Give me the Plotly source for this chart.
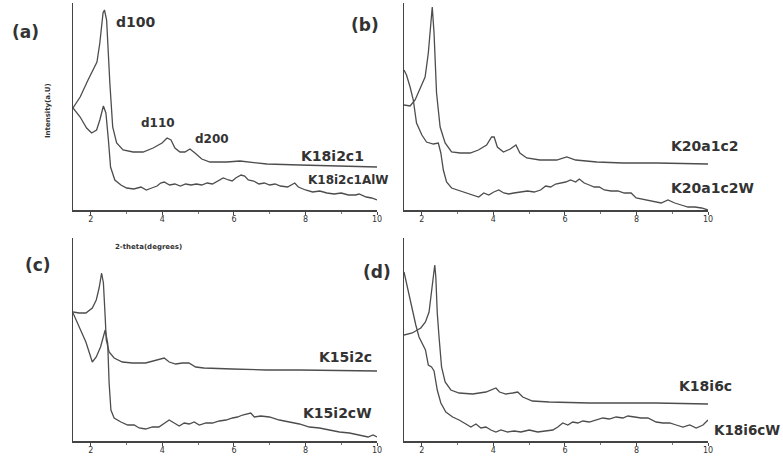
import plotly.graph_objects as go

# ---------------- data (2-theta in degrees, intensity in arbitrary units) -------------
a1_x = [1.5, 1.70, 1.92, 2.17, 2.25, 2.34, 2.38, 2.44, 2.53, 2.61, 2.72, 2.9, 3.18, 3.46, 3.74, 3.99,
        4.13, 4.24, 4.35, 4.49, 4.63, 4.77, 4.91, 5.1, 5.33, 5.8, 6.17, 6.45, 6.92, 7.85, 8.78, 10]
a1_y = [102, 113, 130, 148, 167, 197, 200, 190, 127, 83, 67, 60, 58, 58, 62, 67,
        72, 70, 62, 58, 58, 61, 57, 51, 48, 48, 49, 48, 46, 45, 44, 43]

a2_x = [1.5, 1.70, 1.88, 2.02, 2.16, 2.25, 2.35, 2.42, 2.49, 2.55, 2.67, 2.84, 3.0, 3.2, 3.4, 3.55,
        3.7, 3.85, 3.95, 4.05, 4.2, 4.35, 4.5, 4.65, 4.8, 4.95, 5.1, 5.25, 5.4, 5.55, 5.7, 5.85,
        5.95, 6.05, 6.2, 6.3, 6.4, 6.55, 6.7, 6.85, 7.0, 7.15, 7.3, 7.5, 7.7, 7.8, 8.0, 8.2,
        8.4, 8.6, 8.8, 9.0, 9.2, 9.4, 9.5, 9.7, 9.85, 10]
a2_y = [102, 93, 82, 77, 80, 90, 104, 97, 70, 43, 30, 25, 22, 21, 23, 20,
        22, 24, 27, 28, 25, 26, 24, 26, 25, 26, 25, 27, 26, 29, 32, 30,
        29, 32, 35, 34, 30, 29, 26, 27, 25, 26, 24, 23, 27, 23, 20, 18,
        19, 17, 16, 17, 15, 15, 16, 13, 12, 10]

b1_x = [1.5, 1.67, 1.81, 1.95, 2.09, 2.18, 2.25, 2.29, 2.34, 2.41, 2.51, 2.65, 2.83, 3.07, 3.35, 3.58,
        3.81, 3.95, 4.02, 4.11, 4.28, 4.47, 4.63, 4.74, 4.93, 5.3, 5.77, 6.05, 6.3, 6.89, 7.63, 8.57, 10]
b1_y = [105, 104, 110, 122, 133, 157, 190, 203, 177, 117, 83, 67, 58, 57, 57, 60,
        65, 73, 73, 63, 58, 61, 65, 57, 52, 50, 50, 53, 50, 48, 47, 47, 46]

b2_x = [1.5, 1.57, 1.67, 1.76, 1.85, 2.0, 2.13, 2.32, 2.46, 2.53, 2.6, 2.69, 2.83, 3.07, 3.26, 3.45,
        3.59, 3.73, 3.87, 4.01, 4.15, 4.29, 4.43, 4.57, 4.76, 4.95, 5.14, 5.32, 5.46, 5.6, 5.74, 5.88,
        6.02, 6.16, 6.3, 6.4, 6.54, 6.68, 6.82, 6.96, 7.1, 7.29, 7.48, 7.66, 7.85, 7.99, 8.13, 8.32,
        8.5, 8.69, 8.88, 9.07, 9.25, 9.44, 9.63, 9.82, 10]
b2_y = [140, 135, 123, 110, 87, 75, 68, 66, 67, 57, 40, 28, 22, 19, 17, 15,
        13, 17, 15, 18, 20, 17, 16, 17, 18, 19, 18, 20, 24, 23, 26, 27,
        28, 30, 28, 31, 27, 25, 23, 23, 20, 19, 19, 17, 17, 12, 11, 10,
        8, 7, 10, 7, 5, 3, 3, 2, 0]

c1_x = [1.5, 1.67, 1.86, 2.04, 2.15, 2.23, 2.3, 2.35, 2.4, 2.43, 2.51, 2.65, 2.88, 3.16, 3.53, 3.81,
        4.05, 4.19, 4.37, 4.56, 4.74, 4.93, 5.16, 5.95, 6.9, 7.83, 10]
c1_y = [129, 128, 128, 133, 141, 153, 168, 158, 124, 101, 89, 83, 79, 78, 78, 81,
        83, 79, 77, 78, 78, 74, 73, 72, 71, 71, 70]

c2_x = [1.5, 1.67, 1.86, 2.04, 2.15, 2.27, 2.4, 2.47, 2.51, 2.56, 2.65, 2.84, 3.03, 3.21, 3.35, 3.53,
        3.72, 3.9, 4.05, 4.19, 4.33, 4.47, 4.61, 4.75, 4.89, 5.03, 5.22, 5.4, 5.59, 5.78, 5.96, 6.1,
        6.24, 6.38, 6.47, 6.57, 6.75, 6.99, 7.27, 7.55, 7.83, 8.11, 8.39, 8.67, 8.95, 9.23, 9.51, 9.75,
        9.89, 10]
c2_y = [128, 114, 99, 79, 84, 94, 111, 98, 58, 31, 23, 19, 16, 16, 13, 12,
        14, 14, 18, 21, 18, 15, 18, 17, 19, 16, 18, 18, 20, 21, 23, 24,
        26, 27, 28, 24, 25, 24, 21, 19, 17, 14, 13, 11, 9, 8, 6, 4,
        6, 4]

d1_x = [1.5, 1.73, 1.97, 2.1, 2.2, 2.27, 2.33, 2.36, 2.39, 2.43, 2.48, 2.55, 2.65, 2.81, 3.04, 3.42,
        3.79, 3.98, 4.07, 4.17, 4.35, 4.54, 4.68, 4.82, 5.09, 5.56, 6.68, 7.61, 8.54, 10]
d1_y = [106, 108, 113, 119, 129, 148, 168, 176, 164, 128, 104, 74, 59, 51, 48, 47,
        49, 52, 53, 49, 47, 48, 49, 44, 40, 39, 38, 38, 38, 37]

d2_x = [1.5, 1.55, 1.62, 1.72, 1.83, 1.92, 2.01, 2.1, 2.18, 2.27, 2.34, 2.43, 2.53, 2.67, 2.86, 3.04,
        3.23, 3.37, 3.51, 3.65, 3.79, 3.93, 4.07, 4.21, 4.4, 4.58, 4.77, 5.0, 5.24, 5.47, 5.66, 5.8,
        5.94, 6.08, 6.22, 6.36, 6.5, 6.68, 6.87, 7.06, 7.24, 7.43, 7.62, 7.76, 7.95, 8.13, 8.32, 8.55,
        8.74, 8.93, 9.11, 9.3, 9.49, 9.67, 9.86, 10]
d2_y = [169, 161, 148, 133, 116, 104, 98, 91, 76, 74, 70, 51, 38, 29, 24, 21,
        17, 14, 17, 13, 14, 11, 9, 11, 9, 10, 9, 11, 9, 10, 11, 14,
        18, 16, 19, 18, 20, 19, 21, 23, 22, 24, 23, 25, 24, 23, 23, 19,
        18, 18, 16, 14, 16, 13, 16, 21]

x_tick_vals = [2, 4, 6, 8, 10]
x_tick_text = ["2", "4", "6", "8", "10"]

panel_names = ["(a)", "(b)", "(c)", "(d)"]
series_names = ["K18i2c1", "K18i2c1AlW", "K20a1c2", "K20a1c2W",
                "K15i2c", "K15i2cW", "K18i6c", "K18i6cW"]
peak_names = ["d100", "d110", "d200"]

# ---------------- figure -------------
W, H = 783, 460
def px(x):
    return x / W
def py(y):
    return 1 - y / H

LINE = "#4d4d4d"
TXT = "#333333"
FONT = "DejaVu Sans"

fig = go.Figure()
series = [(a1_x, a1_y, "x", "y"), (a2_x, a2_y, "x", "y"),
          (b1_x, b1_y, "x2", "y2"), (b2_x, b2_y, "x2", "y2"),
          (c1_x, c1_y, "x3", "y3"), (c2_x, c2_y, "x3", "y3"),
          (d1_x, d1_y, "x4", "y4"), (d2_x, d2_y, "x4", "y4")]
for (xs, ys, xa, ya), nm in zip(series, series_names):
    fig.add_trace(go.Scatter(x=xs, y=ys, xaxis=xa, yaxis=ya, mode="lines", name=nm,
                             line=dict(color=LINE, width=1.3), showlegend=False,
                             hoverinfo="skip"))

xdom_left = [px(73), px(377)]
xdom_right = [px(404), px(708)]
ydom_top = [py(210), py(3)]
ydom_bot = [py(441), py(238)]

def xax(dom, anchor):
    return dict(domain=dom, anchor=anchor, range=[1.5, 10], showgrid=False, zeroline=False,
                automargin=False,
                showline=True, linecolor="#444444", linewidth=1.5,
                ticks="outside", ticklen=3, tickwidth=1, tickcolor="#444444",
                tickvals=x_tick_vals, ticktext=x_tick_text, ticklabelstandoff=-2,
                tickfont=dict(family=FONT, size=8, color=TXT),
                minor=dict(dtick=1, tick0=0, ticks="outside", ticklen=2, tickcolor="#777777"))

def yax(dom, anchor, top):
    return dict(domain=dom, anchor=anchor, range=[0, top], showgrid=False, zeroline=False,
                automargin=False,
                showline=True, linecolor="#444444", linewidth=1.5, showticklabels=False, ticks="")

fig.update_layout(
    width=W, height=H, margin=dict(l=0, r=0, t=0, b=0, autoexpand=False),
    paper_bgcolor="white", plot_bgcolor="white",
    xaxis=xax(xdom_left, "y"), yaxis=yax(ydom_top, "x", 207),
    xaxis2=xax(xdom_right, "y2"), yaxis2=yax(ydom_top, "x2", 207),
    xaxis3=xax(xdom_left, "y3"), yaxis3=yax(ydom_bot, "x3", 203),
    xaxis4=xax(xdom_right, "y4"), yaxis4=yax(ydom_bot, "x4", 203),
)

def ann(text, x, y, size, xanchor="left", angle=0):
    fig.add_annotation(text="<b>" + text + "</b>", x=px(x), y=py(y), xref="paper", yref="paper",
                       xanchor=xanchor, yanchor="middle", showarrow=False, textangle=angle,
                       font=dict(family=FONT, size=size, color=TXT))

# panel letters
ann(panel_names[0], 25, 32, 17, "center")
ann(panel_names[1], 365, 25, 17, "center")
ann(panel_names[2], 38, 265, 17, "center")
ann(panel_names[3], 377, 272, 17, "center")

# peak labels
ann(peak_names[0], 114, 22, 14)
ann(peak_names[1], 139, 123, 12)
ann(peak_names[2], 193, 139, 12)

# series labels
ann(series_names[0], 299, 156, 14)
ann(series_names[1], 306, 180, 12)
ann(series_names[2], 669, 146, 14)
ann(series_names[3], 669, 188, 14)
ann(series_names[4], 317, 357, 14)
ann(series_names[5], 301, 413, 14)
ann(series_names[6], 677, 386, 14)
ann(series_names[7], 712, 430, 13.5)

# axis titles (only panel a)
ann("Intensity(a.U)", 48, 111, 7, "center", -90)
ann("2-theta(degrees)", 148, 247, 7, "center")

fig.write_html("out.html", config={"displayModeBar": False, "staticPlot": True},
               post_script="document.body.style.margin='0';document.body.style.overflow='hidden';")
